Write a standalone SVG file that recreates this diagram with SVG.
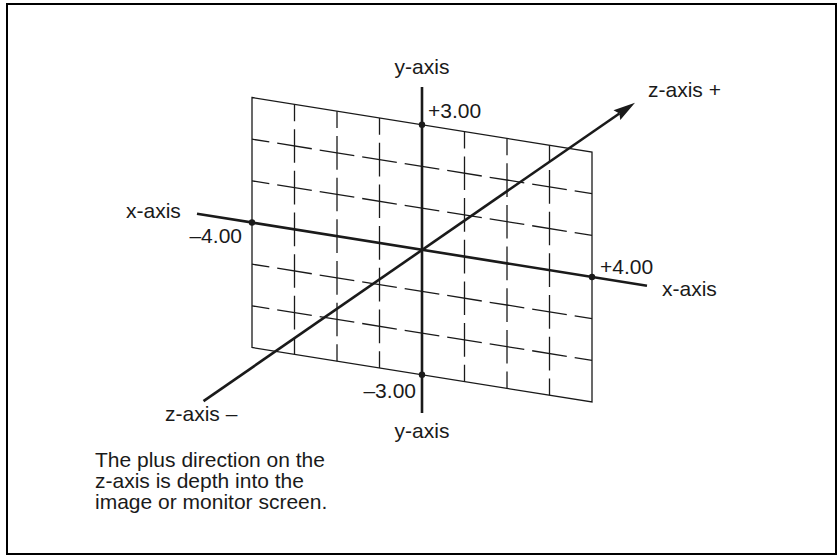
<svg xmlns="http://www.w3.org/2000/svg" width="837" height="557" viewBox="0 0 837 557">
  <style>
    text { font-family: "Liberation Sans", Arial, Helvetica, sans-serif; font-size: 21px; fill: #1a1a1a; }
    .edge { stroke: #1a1a1a; stroke-width: 1.3; fill: none; }
    .hdash { stroke: #1a1a1a; stroke-width: 1.3; fill: none; stroke-dasharray: 35.04 8; stroke-dashoffset: 17.52; }
    .vdash { stroke: #1a1a1a; stroke-width: 1.3; fill: none; stroke-dasharray: 33.67 8; stroke-dashoffset: 16.83; }
    .axis { stroke: #1a1a1a; stroke-width: 2.6; fill: none; }
    .dot { fill: #1a1a1a; }
  </style>
  <rect x="7" y="4" width="829" height="550" fill="#ffffff" stroke="#000000" stroke-width="2"/>

  <g id="plane">
    <polygon class="edge" points="252,97.5 592,152 592,402 252,347.5"/>
    <line class="hdash" x1="252" y1="139.17" x2="592" y2="193.67"/>
    <line class="hdash" x1="252" y1="180.83" x2="592" y2="235.33"/>
    <line class="hdash" x1="252" y1="264.17" x2="592" y2="318.67"/>
    <line class="hdash" x1="252" y1="305.83" x2="592" y2="360.33"/>
    <line class="vdash" x1="294.5" y1="104.31" x2="294.5" y2="354.31"/>
    <line class="vdash" x1="337" y1="111.13" x2="337" y2="361.13"/>
    <line class="vdash" x1="379.5" y1="117.94" x2="379.5" y2="367.94"/>
    <line class="vdash" x1="464.5" y1="131.56" x2="464.5" y2="381.56"/>
    <line class="vdash" x1="507" y1="138.38" x2="507" y2="388.38"/>
    <line class="vdash" x1="549.5" y1="145.19" x2="549.5" y2="395.19"/>
  </g>

  <g id="connectors">
    <line id="x-axis" class="axis" x1="197" y1="213.7" x2="647" y2="285.8"/>
    <line id="y-axis" class="axis" x1="422" y1="87" x2="422" y2="413"/>
    <line id="z-axis" class="axis" x1="203.5" y1="401.1" x2="619.4" y2="113.5"/>
    <polygon id="z-arrowhead" class="dot" points="635,102.7 620.3,120.1 619.4,113.5 613.5,110.3"/>
  </g>

  <g id="ticks">
    <circle class="dot" cx="252" cy="222.5" r="3.2"/>
    <circle class="dot" cx="592" cy="277" r="3.2"/>
    <circle class="dot" cx="422" cy="124.75" r="3.2"/>
    <circle class="dot" cx="422" cy="374.75" r="3.2"/>
  </g>

  <g id="labels">
    <text x="422" y="74" text-anchor="middle">y-axis</text>
    <text x="422" y="437.5" text-anchor="middle">y-axis</text>
    <text x="428" y="118">+3.00</text>
    <text x="416" y="398" text-anchor="end">–3.00</text>
    <text x="126" y="218">x-axis</text>
    <text x="242" y="243" text-anchor="end">–4.00</text>
    <text x="600" y="274">+4.00</text>
    <text x="662" y="296">x-axis</text>
    <text x="648" y="97">z-axis +</text>
    <text x="165" y="421">z-axis –</text>
  </g>

  <g id="caption">
    <text x="95" y="467">The plus direction on the</text>
    <text x="95" y="488">z-axis is depth into the</text>
    <text x="95" y="509">image or monitor screen.</text>
  </g>
</svg>
